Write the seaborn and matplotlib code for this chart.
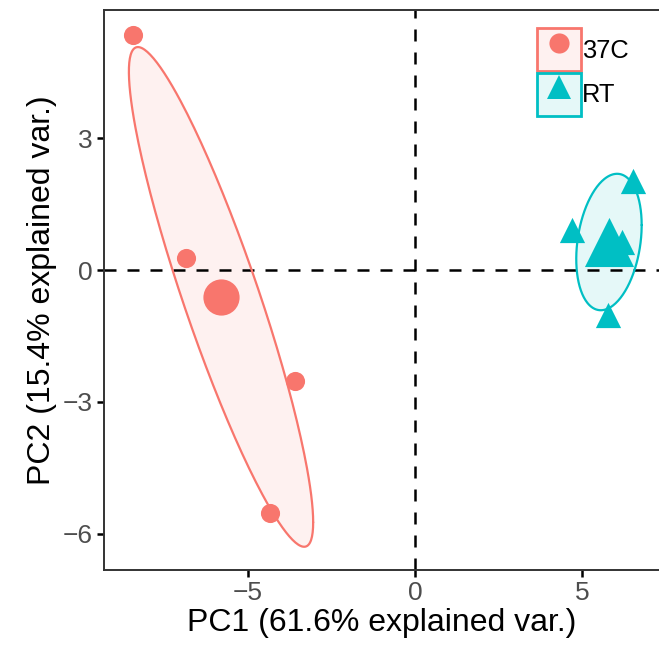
import numpy as np
import pandas as pd
import matplotlib
matplotlib.use("Agg")
import matplotlib.pyplot as plt
import seaborn as sns
from matplotlib.patches import Rectangle
from matplotlib.lines import Line2D
from matplotlib.legend_handler import HandlerTuple

# ---- data ----
groups = ["37C", "37C", "37C", "37C", "RT", "RT", "RT", "RT"]
pc1 = [-8.44, -6.86, -3.59, -4.34, 4.70, 6.53, 5.78, 6.20]
pc2 = [5.35, 0.27, -2.53, -5.54, 0.91, 2.03, -1.03, 0.64]
group_order = ["37C", "RT"]
colors = {"37C": "#F8766D", "RT": "#00BFC4"}
markers = {"37C": "o", "RT": "^"}
xlab = "PC1 (61.6% explained var.)"
ylab = "PC2 (15.4% explained var.)"
ellipse_prob = 0.53

df = pd.DataFrame({"group": groups, "PC1": pc1, "PC2": pc2})
cent = df.groupby("group", as_index=False)[["PC1", "PC2"]].mean()

sns.set_theme(style="white")
plt.rcParams["font.family"] = ["Liberation Sans", "DejaVu Sans"]

fig = plt.figure(figsize=(6.59, 6.52), dpi=100)
ax = fig.add_axes([104 / 659, (652 - 570) / 652, (659 - 104) / 659, (570 - 10) / 652])

# ellipses (ggbiplot style, from the sample covariance)
theta = np.linspace(0, 2 * np.pi, 240)
circle = np.column_stack([np.cos(theta), np.sin(theta)])
ed = np.sqrt(-2 * np.log(1 - ellipse_prob))
for g in group_order:
    sub = df[df.group == g][["PC1", "PC2"]].to_numpy()
    sigma = np.cov(sub.T)
    mu = sub.mean(axis=0)
    L = np.linalg.cholesky(sigma)
    pts = circle @ L.T * ed + mu
    ax.fill(pts[:, 0], pts[:, 1], color=colors[g], alpha=0.1, lw=0, zorder=1)
    ax.plot(pts[:, 0], pts[:, 1], color=colors[g], lw=1.6, zorder=2)

ax.axhline(0, color="black", ls=(0, (4.8, 4.4)), lw=1.8, zorder=1.5)
ax.axvline(0, color="black", ls=(0, (4.8, 4.4)), lw=1.8, zorder=1.5)

pt_size = {"37C": 190, "RT": 330}
cent_size = {"37C": 680, "RT": 1250}
for g in group_order:
    sns.scatterplot(data=df[df.group == g], x="PC1", y="PC2", color=colors[g],
                    marker=markers[g], s=pt_size[g], linewidth=0, legend=False,
                    ax=ax, zorder=3)
    sns.scatterplot(data=cent[cent.group == g], x="PC1", y="PC2", color=colors[g],
                    marker=markers[g], s=cent_size[g], linewidth=0, legend=False,
                    ax=ax, zorder=3)

ax.set_xlim(-9.31, 7.3)
ax.set_ylim(-6.83, 5.92)
ax.set_xticks([-5, 0, 5])
ax.set_yticks([-6, -3, 0, 3])
ax.set_xticklabels(["\u22125", "0", "5"])
ax.set_yticklabels(["\u22126", "\u22123", "0", "3"])
ax.tick_params(axis="both", which="major", labelsize=19, labelcolor="#4D4D4D",
               length=5, width=1.8, color="black", pad=3, bottom=True, left=True)
ax.set_xlabel(xlab, fontsize=23, color="black", labelpad=2)
ax.set_ylabel(ylab, fontsize=23, color="black", labelpad=4)
for side in ["left", "bottom", "top"]:
    ax.spines[side].set_color("#333333")
    ax.spines[side].set_linewidth(1.4)
ax.spines["right"].set_visible(False)

handles = []
for g in group_order:
    rect = Rectangle((0, 0), 1, 1, facecolor=matplotlib.colors.to_rgba(colors[g], 0.1),
                     edgecolor=colors[g], linewidth=2)
    mk = Line2D([], [], ls="", marker=markers[g], color=colors[g],
                markersize=14.5 if g == "37C" else 17, markeredgewidth=0)
    handles.append((rect, mk))
leg = fig.legend(handles, group_order, handler_map={tuple: HandlerTuple(ndivide=1, pad=0)},
                 loc="upper left", bbox_to_anchor=(537 / 659, 1 - 28 / 652),
                 frameon=False, fontsize=18.4, handlelength=1.72, handleheight=2.22,
                 labelspacing=0.06, handletextpad=0.05, borderaxespad=0, borderpad=0,
                 labelcolor="black")

fig.savefig("out.png", dpi=100)
